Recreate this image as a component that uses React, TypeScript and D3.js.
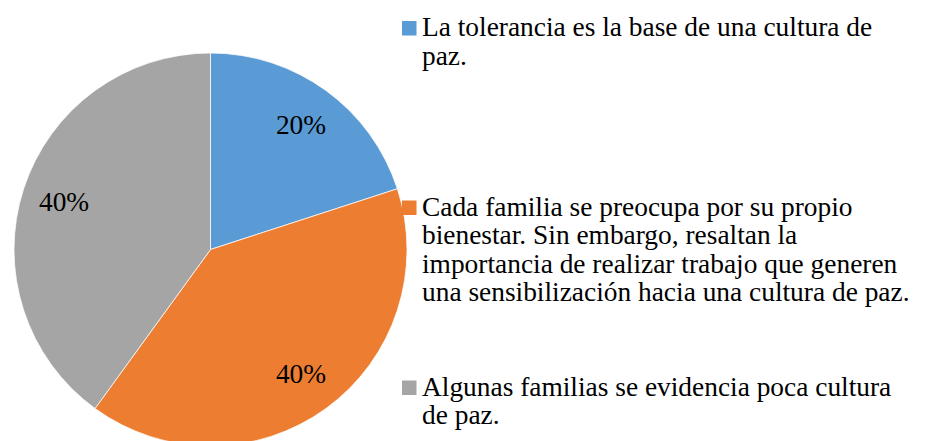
import React from "react";
import * as d3 from "d3";

const categories = [
  "La tolerancia es la base de una cultura de paz.",
  "Cada familia se preocupa por su propio bienestar. Sin embargo, resaltan la importancia de realizar trabajo que generen una sensibilización hacia una cultura de paz.",
  "Algunas familias se evidencia poca cultura de paz.",
];
const legendLines = [
  ["La tolerancia es la base de una cultura de", "paz."],
  [
    "Cada familia se preocupa por su propio",
    "bienestar. Sin embargo, resaltan la",
    "importancia de realizar trabajo que generen",
    "una sensibilización hacia una cultura de paz.",
  ],
  ["Algunas familias se evidencia poca cultura", "de paz."],
];
const values = [20, 40, 40];
const colors = ["#5B9BD5", "#ED7D31", "#A5A5A5"];

const W = 929;
const H = 441;
const FONT = "'Liberation Serif', 'Times New Roman', serif";
const FS = 27.4;

export default function App() {
  const cx = 210.5;
  const cy = 249.5;
  const r = 196.5;
  const total = d3.sum(values);
  const pie = d3
    .pie<number>()
    .sort(null)
    .value((d) => d);
  const arcs = pie(values);
  const arc = d3.arc<d3.PieArcDatum<number>>().innerRadius(0).outerRadius(r);
  const labelArc = d3
    .arc<d3.PieArcDatum<number>>()
    .innerRadius(154)
    .outerRadius(154);
  const fmt = d3.format(".0%");

  const legendX = 402;
  const textX = 422;
  const firstBaselines = [36, 215.5, 395.5];
  const lineH = 28.5;

  return (
    <svg
      width={W}
      height={H}
      style={{ position: "absolute", left: 0, top: 0, background: "#fff" }}
    >
      <rect width={W} height={H} fill="#fff" />
      <g transform={`translate(${cx},${cy})`}>
        {arcs.map((a, i) => (
          <path
            key={i}
            d={arc(a) || ""}
            fill={colors[i]}
            stroke="#fff"
            strokeWidth={0.75}
          />
        ))}
        {arcs.map((a, i) => {
          const [x, y] = labelArc.centroid(a);
          return (
            <text
              key={"l" + i}
              x={x}
              y={y}
              dy="0.33em"
              textAnchor="middle"
              fontFamily={FONT}
              fontSize={FS}
              fill="#000"
            >
              {fmt(values[i] / total)}
            </text>
          );
        })}
      </g>
      {categories.map((c, i) => (
        <g key={"leg" + i}>
          <title>{c}</title>
          <rect
            x={legendX}
            y={firstBaselines[i] - 15}
            width={14.5}
            height={14.5}
            fill={colors[i]}
          />
          {legendLines[i].map((line, j) => (
            <text
              key={j}
              x={textX}
              y={firstBaselines[i] + j * lineH}
              fontFamily={FONT}
              fontSize={FS}
              fill="#000"
            >
              {line}
            </text>
          ))}
        </g>
      ))}
    </svg>
  );
}
